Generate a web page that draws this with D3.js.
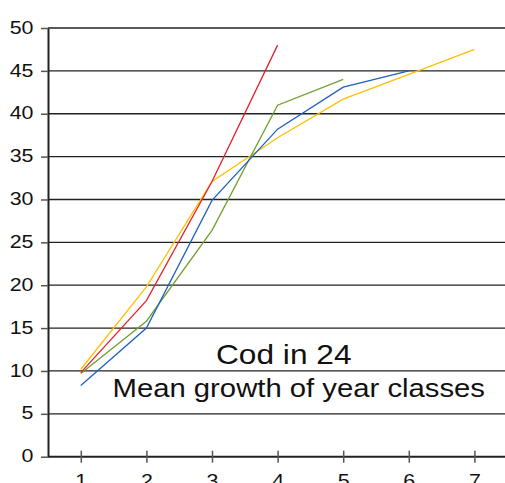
<!DOCTYPE html>
<html>
<head>
<meta charset="utf-8">
<script src="https://cdn.jsdelivr.net/npm/d3@7"></script>
<style>
html,body{margin:0;padding:0;background:#fff;}
svg{display:block;}
text{font-family:"Liberation Sans",Arial,sans-serif;fill:#111;}
</style>
</head>
<body>
<svg id="chart" width="505" height="483"></svg>
<script>
const categories = [1, 2, 3, 4, 5, 6, 7];
const yTicks = [0, 5, 10, 15, 20, 25, 30, 35, 40, 45, 50];
const redValues = [9.8, 18.2, 32.1, 48.0];
const yellowValues = [10.2, 19.8, 32.1, 37.2, 41.7, 44.6, 47.5];
const blueValues = [8.3, 15.0, 29.9, 38.2, 43.1, 45.0];
const greenValues = [9.7, 15.8, 26.4, 41.0, 44.0];
const titleLine1 = "Cod in 24";
const titleLine2 = "Mean growth of year classes";

const seriesList = [
  {name: "yellow", values: yellowValues, color: "#ffc000"},
  {name: "green", values: greenValues, color: "#70a030"},
  {name: "blue", values: blueValues, color: "#2060c0"},
  {name: "red", values: redValues, color: "#e8202a"}
];

const svg = d3.select("#chart");
const x = d3.scaleLinear().domain([0.5, 7.5]).range([48, 507.2]);
const y = d3.scaleLinear().domain([0, 50]).range([456.7, 28]);

// gridlines
svg.append("g").selectAll("line").data(yTicks.filter(d => d > 0)).join("line")
  .attr("x1", x(0.5)).attr("x2", 505)
  .attr("y1", d => y(d)).attr("y2", d => y(d))
  .attr("stroke", "#222").attr("stroke-width", 1.3);

// y axis
const yAxis = svg.append("g").attr("transform", `translate(${x(0.5)},0)`)
  .call(d3.axisLeft(y).tickValues(yTicks).tickFormat(d3.format("d")).tickSize(7).tickPadding(7.5).tickSizeOuter(0));
yAxis.select(".domain").attr("stroke", "#222").attr("stroke-width", 2);
yAxis.selectAll(".tick line").attr("stroke", "#555").attr("stroke-width", 1.5);
yAxis.selectAll(".tick text")
  .attr("font-size", 19).attr("dy", "0.27em")
  .attr("textLength", d => String(d).length * 11.9)
  .attr("lengthAdjust", "spacingAndGlyphs")
  .style("font-family", "'Liberation Sans', Arial, sans-serif").attr("fill", "#111");

// x axis
const xAxis = svg.append("g").attr("transform", `translate(0,${y(0)})`)
  .call(d3.axisBottom(x).tickValues(categories).tickFormat(d3.format("d")).tickSize(6).tickPadding(10.6).tickSizeOuter(0));
xAxis.select(".domain").attr("stroke", "#222").attr("stroke-width", 2)
  .attr("d", `M${x(0.5)},0H505`);
xAxis.selectAll(".tick line").attr("y1", -6).attr("stroke", "#555").attr("stroke-width", 1.5);
xAxis.selectAll(".tick text")
  .attr("font-size", 19)
  .attr("textLength", d => String(d).length * 11.9)
  .attr("lengthAdjust", "spacingAndGlyphs")
  .style("font-family", "'Liberation Sans', Arial, sans-serif").attr("fill", "#111");

// lines
const line = d3.line().x((d, i) => x(categories[i])).y(d => y(d));
svg.append("g").selectAll("path").data(seriesList).join("path")
  .attr("d", s => line(s.values))
  .attr("fill", "none")
  .attr("stroke", s => s.color)
  .attr("stroke-width", 1.3);

// title texts
svg.append("text").attr("x", 216).attr("y", 364.3)
  .attr("font-size", 28).attr("textLength", 135.5).attr("lengthAdjust", "spacingAndGlyphs")
  .text(titleLine1);
svg.append("text").attr("x", 112.5).attr("y", 396.7)
  .attr("font-size", 26).attr("textLength", 372.5).attr("lengthAdjust", "spacingAndGlyphs")
  .text(titleLine2);
</script>
</body>
</html>
